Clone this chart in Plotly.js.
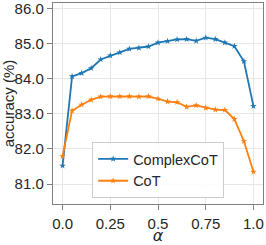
<!DOCTYPE html>
<html><head><meta charset="utf-8">
<script src="https://cdn.plot.ly/plotly-3.0.1.min.js"></script>
<style>html,body{margin:0;padding:0;background:#fff}#chart{width:266px;height:245px}</style>
</head><body><div id="chart"></div>
<script>
const alpha = [0,0.05,0.1,0.15,0.2,0.25,0.3,0.35,0.4,0.45,0.5,0.55,0.6,0.65,0.7,0.75,0.8,0.85,0.9,0.95,1.0];
const complexCoT = [81.52,84.07,84.16,84.30,84.55,84.66,84.75,84.85,84.88,84.92,85.03,85.07,85.12,85.13,85.08,85.17,85.13,85.03,84.93,84.50,83.22];
const coT = [81.79,83.09,83.26,83.40,83.49,83.50,83.50,83.50,83.49,83.50,83.43,83.35,83.33,83.20,83.24,83.17,83.12,83.11,82.85,82.22,81.35];
const seriesNames = ['ComplexCoT','CoT'];
const xTickVals = [0,0.25,0.5,0.75,1.0];
const xTickText = ['0.0','0.25','0.5','0.75','1.0'];
const yTickVals = [81,82,83,84,85,86];

const fam = 'Liberation Sans, Arial, sans-serif';
const font = {family:fam, size:15, color:'#262626'};
const traces = [
  {x:alpha, y:complexCoT, name:seriesNames[0], mode:'lines+markers', line:{color:'#1f77b4', width:1.8}, marker:{symbol:'star', size:5, color:'#1f77b4'}},
  {x:alpha, y:coT, name:seriesNames[1], mode:'lines+markers', line:{color:'#ff7f0e', width:1.8}, marker:{symbol:'star', size:5, color:'#ff7f0e'}}
];
const axisCommon = {showline:true, mirror:true, linecolor:'#808080', linewidth:1.2, showgrid:true, gridcolor:'#e6e6e6', gridwidth:1, ticks:'outside', ticklen:5, tickcolor:'#808080', zeroline:false, tickfont:font, automargin:false, ticklabeloverflow:'allow'};
const layout = {
  width:266, height:245, margin:{l:53, r:3, t:3, b:41},
  paper_bgcolor:'#fff', plot_bgcolor:'#fff', font:font,
  xaxis:Object.assign({}, axisCommon, {range:[-0.05,1.05], tickvals:xTickVals, ticktext:xTickText, ticklabelstandoff:1, title:{text:'<i>α</i>', font:{family:'DejaVu Sans, sans-serif', size:16, color:'#262626'}, standoff:0}}),
  yaxis:Object.assign({}, axisCommon, {range:[80.43,86.16], tickvals:yTickVals, tickformat:'.1f', title:{text:'accuracy (%)', font:font, standoff:8}}),
  showlegend:true,
  legend:{x:0.815, y:0.03, xanchor:'right', yanchor:'bottom', bgcolor:'rgba(255,255,255,0.85)', bordercolor:'#cccccc', borderwidth:1, font:{family:fam, size:14.5, color:'#262626'}, tracegroupgap:0, itemwidth:30}
};
Plotly.newPlot('chart', traces, layout, {displayModeBar:false, staticPlot:true});
</script></body></html>
